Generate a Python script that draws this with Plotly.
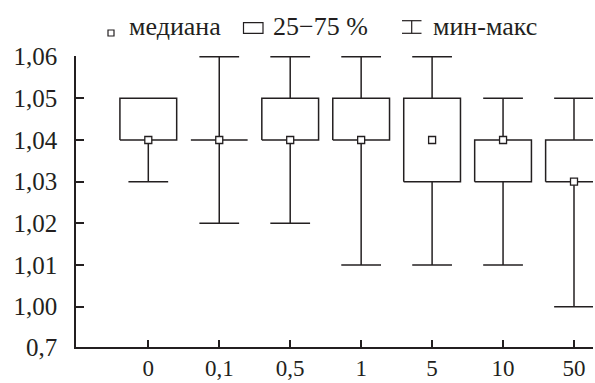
import plotly.graph_objects as go

# ---- data ----
categories = ["0", "0,1", "0,5", "1", "5", "10", "50"]
v_min = [1.03, 1.02, 1.02, 1.01, 1.01, 1.01, 1.00]
q25 = [1.04, 1.04, 1.04, 1.04, 1.03, 1.03, 1.03]
median = [1.04, 1.04, 1.04, 1.04, 1.04, 1.04, 1.03]
q75 = [1.05, 1.04, 1.05, 1.05, 1.05, 1.04, 1.04]
v_max = [1.05, 1.06, 1.06, 1.06, 1.06, 1.05, 1.05]

y_tick_vals = [1.00, 1.01, 1.02, 1.03, 1.04, 1.05, 1.06]
y_tick_text = ["1,00", "1,01", "1,02", "1,03", "1,04", "1,05", "1,06"]
y_break_label = "0,7"

legend_labels = ["медиана", "25\u221275 %", "мин-макс"]

# ---- style ----
INK = "#231f20"
FONT = "Times New Roman, Liberation Serif, DejaVu Serif, Noto Serif, serif"
FS = 25
LW = 1.5
BOX_HALF = 0.40
CAP_HALF = 0.28

xpos = list(range(len(categories)))

# whiskers + caps
wx, wy = [], []
for i, lo, a, b, hi in zip(xpos, v_min, q25, q75, v_max):
    if hi > b:
        wx += [i, i, None, i - CAP_HALF, i + CAP_HALF, None]
        wy += [b, hi, None, hi, hi, None]
    if lo < a:
        wx += [i, i, None, i - CAP_HALF, i + CAP_HALF, None]
        wy += [a, lo, None, lo, lo, None]

# boxes (25-75 %)
bx, by = [], []
for i, a, b in zip(xpos, q25, q75):
    bx += [i - BOX_HALF, i + BOX_HALF, i + BOX_HALF, i - BOX_HALF, i - BOX_HALF, None]
    by += [a, a, b, b, a, None]

fig = go.Figure()
fig.add_trace(go.Scatter(x=wx, y=wy, mode="lines", line=dict(color=INK, width=LW),
                         hoverinfo="skip", showlegend=False))
fig.add_trace(go.Scatter(x=bx, y=by, mode="lines", fill="toself", fillcolor="white",
                         line=dict(color=INK, width=LW), hoverinfo="skip", showlegend=False))
fig.add_trace(go.Scatter(x=xpos, y=median, mode="markers",
                         marker=dict(symbol="square", size=7, color="white",
                                     line=dict(color=INK, width=1.3)),
                         cliponaxis=False, showlegend=False))

# axis geometry
L, R, T, B = 76, 2, 56, 36
W, H = 595, 383
pw, ph = W - L - R, H - T - B
y_per_px = 0.01 / 41.67
y_bottom = 1.00 - 40.3 * y_per_px
y_top = y_bottom + ph * y_per_px
x_per_px = 1 / 70.95
x_left = -(148.3 - L) * x_per_px
x_right = x_left + pw * x_per_px

fig.update_layout(
    width=W, height=H,
    margin=dict(l=L, r=R, t=T, b=B, autoexpand=False),
    paper_bgcolor="white", plot_bgcolor="white",
    font=dict(family=FONT, size=FS, color=INK),
    showlegend=False,
    xaxis=dict(range=[x_left, x_right], tickvals=xpos, ticktext=categories,
               showline=True, linecolor=INK, linewidth=LW, showgrid=False, zeroline=False,
               ticks="inside", ticklen=7, tickwidth=LW, tickcolor=INK, automargin=False,
               tickfont=dict(family=FONT, size=23, color=INK),
               ticklabelstandoff=0, fixedrange=True),
    yaxis=dict(range=[y_bottom, y_top], tickvals=[y_bottom] + y_tick_vals,
               ticktext=[y_break_label] + y_tick_text,
               showline=True, linecolor=INK, linewidth=LW, showgrid=False, zeroline=False,
               ticks="inside", ticklen=8, tickwidth=LW, tickcolor=INK, automargin=False,
               tickfont=dict(family=FONT, size=FS, color=INK),
               ticklabelstandoff=12, fixedrange=True),
)

# ---- custom legend (paper coords) ----
def px_x(p):
    return (p - L) / pw

def px_y(p):
    return (H - B - p) / ph

text_cy = 27
for xl, lab in zip([127, 271, 431], legend_labels):
    fig.add_annotation(x=px_x(xl), y=px_y(text_cy), xref="paper", yref="paper", text=lab,
                       showarrow=False, xanchor="left", yanchor="middle",
                       font=dict(family=FONT, size=26, color=INK))

# median icon
fig.add_shape(type="rect", xref="paper", yref="paper",
              x0=px_x(108), x1=px_x(114), y0=px_y(36), y1=px_y(30),
              line=dict(color=INK, width=1.2), fillcolor="white")
# box icon
fig.add_shape(type="rect", xref="paper", yref="paper",
              x0=px_x(243.5), x1=px_x(263), y0=px_y(33.3), y1=px_y(22.7),
              line=dict(color=INK, width=1.2), fillcolor="white")
# min-max icon
for (x0, y0, x1, y1) in [(402, 20.7, 421.5, 20.7), (402, 33.3, 421.5, 33.3), (411.7, 20.7, 411.7, 33.3)]:
    fig.add_shape(type="line", xref="paper", yref="paper",
                  x0=px_x(x0), x1=px_x(x1), y0=px_y(y0), y1=px_y(y1),
                  line=dict(color=INK, width=1.2))

fig.write_html("out.html", config={"displayModeBar": False},
               post_script="document.body.style.margin='0px';document.body.style.padding='0px';")
